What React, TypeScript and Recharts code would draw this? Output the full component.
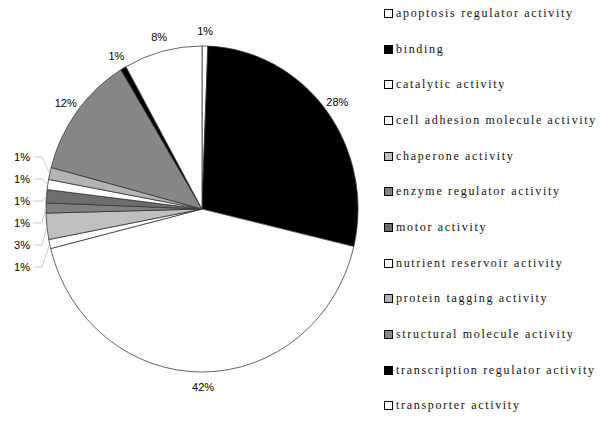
import { PieChart, Pie, Cell, Legend } from "recharts";

// GO molecular function categories, clockwise from 12 o'clock
const categories = [
  "apoptosis regulator activity",
  "binding",
  "catalytic activity",
  "cell adhesion molecule activity",
  "chaperone activity",
  "enzyme regulator activity",
  "motor activity",
  "nutrient reservoir activity",
  "protein tagging activity",
  "structural molecule activity",
  "transcription regulator activity",
  "transporter activity",
];

// share of proteins (%)
const shares = [0.6, 28.1, 42.4, 0.9, 2.6, 1.0, 1.3, 1.0, 1.2, 12.2, 0.6, 8.1];

const fills = [
  "#ffffff",
  "#000000",
  "#ffffff",
  "#ffffff",
  "#c0c0c0",
  "#808080",
  "#6e6e6e",
  "#ffffff",
  "#b4b4b4",
  "#878787",
  "#000000",
  "#ffffff",
];

const chartData = categories.map((name, i) => ({ name, value: shares[i] }));

const CX = 202;
const CY = 209;
const R = 156;
const SY = 1.045; // original pie is a little taller than wide
const RAD = Math.PI / 180;

// small slices on the left get their labels stacked in a column
const total = shares.reduce((a, b) => a + b, 0);
const leftIdx: number[] = [];
{
  let acc = 0;
  shares.forEach((v, i) => {
    const mid = ((acc + v / 2) / total) * 360;
    if (v < 5 && mid > 240 && mid < 300) leftIdx.push(i);
    acc += v;
  });
}

const renderLabel = (props: any) => {
  const { cx, cy, midAngle, outerRadius, index, percent } = props;
  const txt = `${Math.max(1, Math.round(percent * 100))}%`;
  const k = leftIdx.indexOf(index);
  if (k >= 0) {
    const ly = cy + (58 - k * 22) / SY;
    const lx = cx - outerRadius - 16;
    const ex = cx + outerRadius * Math.cos(-midAngle * RAD);
    const ey = cy + outerRadius * Math.sin(-midAngle * RAD);
    return (
      <g key={`lbl-${index}`}>
        <polyline
          points={`${lx + 3},${ly} ${lx + 12},${ly} ${ex},${ey}`}
          fill="none"
          stroke="#bdbdbd"
          strokeWidth={0.8}
        />
        <text
          x={lx}
          y={ly}
          textAnchor="end"
          dominantBaseline="central"
          fontFamily="'Liberation Sans', Arial, sans-serif"
          fontSize={11}
          fill="#000"
        >
          {txt}
        </text>
      </g>
    );
  }
  const r = outerRadius + 14;
  const x = cx + r * Math.cos(-midAngle * RAD);
  const y = cy + r * Math.sin(-midAngle * RAD);
  return (
    <text
      key={`lbl-${index}`}
      x={x}
      y={y}
      textAnchor="middle"
      dominantBaseline="central"
      fontFamily="'Liberation Sans', Arial, sans-serif"
      fontSize={11}
      fill="#000"
    >
      {txt}
    </text>
  );
};

const renderLegend = () => (
  <div style={{ position: "relative", width: 217, height: 422 }}>
    {categories.map((name, i) => (
      <div
        key={name}
        style={{
          position: "absolute",
          left: 0,
          top: 13.5 + i * 35.65 - 8,
          height: 16,
          display: "flex",
          alignItems: "center",
          whiteSpace: "nowrap",
        }}
      >
        <div
          style={{
            width: 7,
            height: 7,
            border: "1px solid #000",
            background: fills[i],
            marginRight: 3,
          }}
        />
        <span
          style={{
            fontFamily: "'Liberation Serif', 'DejaVu Serif', serif",
            fontSize: 12,
            letterSpacing: 1.68,
            color: "#111",
          }}
        >
          {name}
        </span>
      </div>
    ))}
  </div>
);

export default function App() {
  return (
    <div
      className="pie-box"
      style={{ position: "absolute", left: 0, top: 0, width: 600, height: 422, background: "#fff" }}
    >
      <style>{`
        .pie-box svg.recharts-surface {
          transform: scaleY(${SY});
          transform-origin: ${CX}px ${CY}px;
        }
      `}</style>
      <PieChart width={600} height={422} margin={{ top: 0, right: 0, bottom: 0, left: 0 }}>
        <Pie
          data={chartData}
          dataKey="value"
          nameKey="name"
          cx={CX}
          cy={CY}
          outerRadius={R}
          startAngle={90}
          endAngle={-270}
          stroke="#333"
          strokeWidth={0.75}
          label={renderLabel}
          labelLine={false}
          isAnimationActive={false}
        >
          {chartData.map((d, i) => (
            <Cell key={d.name} fill={fills[i]} />
          ))}
        </Pie>
        <Legend
          content={renderLegend}
          wrapperStyle={{ position: "absolute", left: 384, top: 0, width: 217, height: 422 }}
        />
      </PieChart>
    </div>
  );
}
